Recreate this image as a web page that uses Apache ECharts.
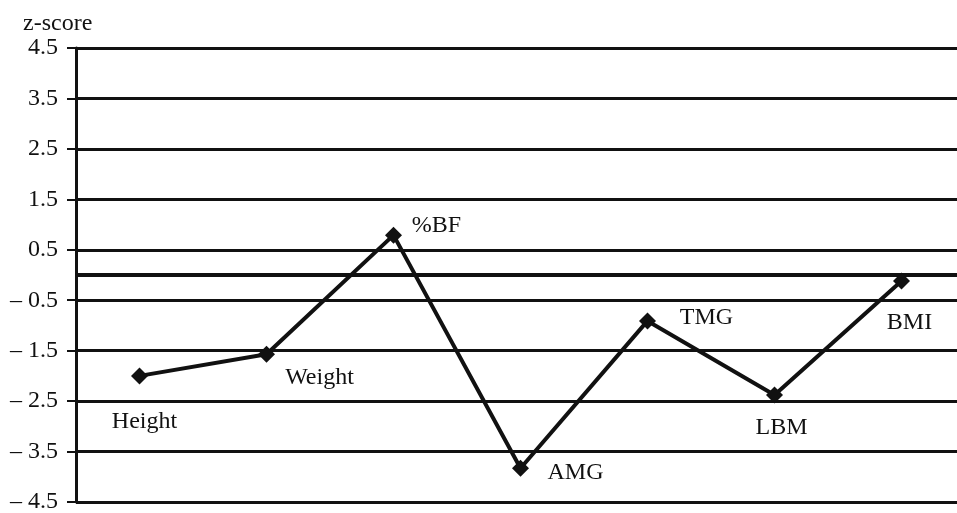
<!DOCTYPE html>
<html>
<head>
<meta charset="utf-8">
<script src="https://cdn.jsdelivr.net/npm/echarts@6/dist/echarts.min.js"></script>
<style>
  html, body { margin: 0; padding: 0; background: #fff; }
  #chart { width: 957px; height: 513px; }
</style>
</head>
<body>
<div id="chart"></div>
<script>
var categories = ['Height', 'Weight', '%BF', 'AMG', 'TMG', 'LBM', 'BMI']
var zScores = [-2.0, -1.57, 0.79, -3.83, -0.91, -2.38, -0.12]
// where each point's name sits, relative to the marker
var labelOffsets = [[5, 46], [53, 24], [43, -9], [55, 5], [59, -3], [7, 33], [8, 42]]
var yTicks = [-4.5, -3.5, -2.5, -1.5, -0.5, 0.5, 1.5, 2.5, 3.5, 4.5]

var font = '"Liberation Serif", "Times New Roman", serif'

var chart = echarts.init(document.getElementById('chart'), null, {renderer: 'canvas'})

var seriesData = zScores.map(function (v, i) {
  return {
    value: v,
    label: {
      show: true,
      position: 'inside',
      offset: labelOffsets[i],
      formatter: categories[i],
      color: '#111',
      fontFamily: font,
      fontSize: 24
    }
  }
})

chart.setOption({
  animation: false,
  backgroundColor: '#fff',
  title: {
    text: 'z-score',
    left: 18,
    top: 7,
    textStyle: {
      fontFamily: font,
      fontWeight: 'normal',
      fontSize: 24,
      color: '#111'
    }
  },
  grid: {
    left: 76,
    right: -8,
    top: 48,
    bottom: 11,
    outerBoundsMode: 'none'
  },
  xAxis: {
    type: 'category',
    data: categories,
    boundaryGap: true,
    axisLine: {show: false},
    axisTick: {show: false},
    axisLabel: {show: false},
    splitLine: {show: false}
  },
  yAxis: {
    type: 'value',
    min: yTicks[0],
    max: yTicks[yTicks.length - 1],
    interval: 1,
    axisLine: {
      show: true,
      lineStyle: {color: '#111', width: 3}
    },
    axisTick: {
      show: true,
      length: 9,
      lineStyle: {color: '#111', width: 2}
    },
    axisLabel: {
      color: '#111',
      fontFamily: font,
      fontSize: 24,
      margin: 18,
      formatter: function (val) {
        if (val < 0) {
          return '\u2013 ' + Math.abs(val).toFixed(1)
        }
        return val.toFixed(1)
      }
    },
    splitLine: {
      show: true,
      lineStyle: {color: '#111', width: 3}
    }
  },
  series: [{
    type: 'line',
    data: seriesData,
    symbol: 'diamond',
    symbolSize: 17,
    lineStyle: {color: '#111', width: 4},
    itemStyle: {color: '#111'},
    z: 5,
    markLine: {
      silent: true,
      symbol: ['none', 'none'],
      label: {show: false},
      lineStyle: {color: '#111', width: 4, type: 'solid'},
      data: [{yAxis: 0}]
    }
  }]
})
</script>
</body>
</html>
